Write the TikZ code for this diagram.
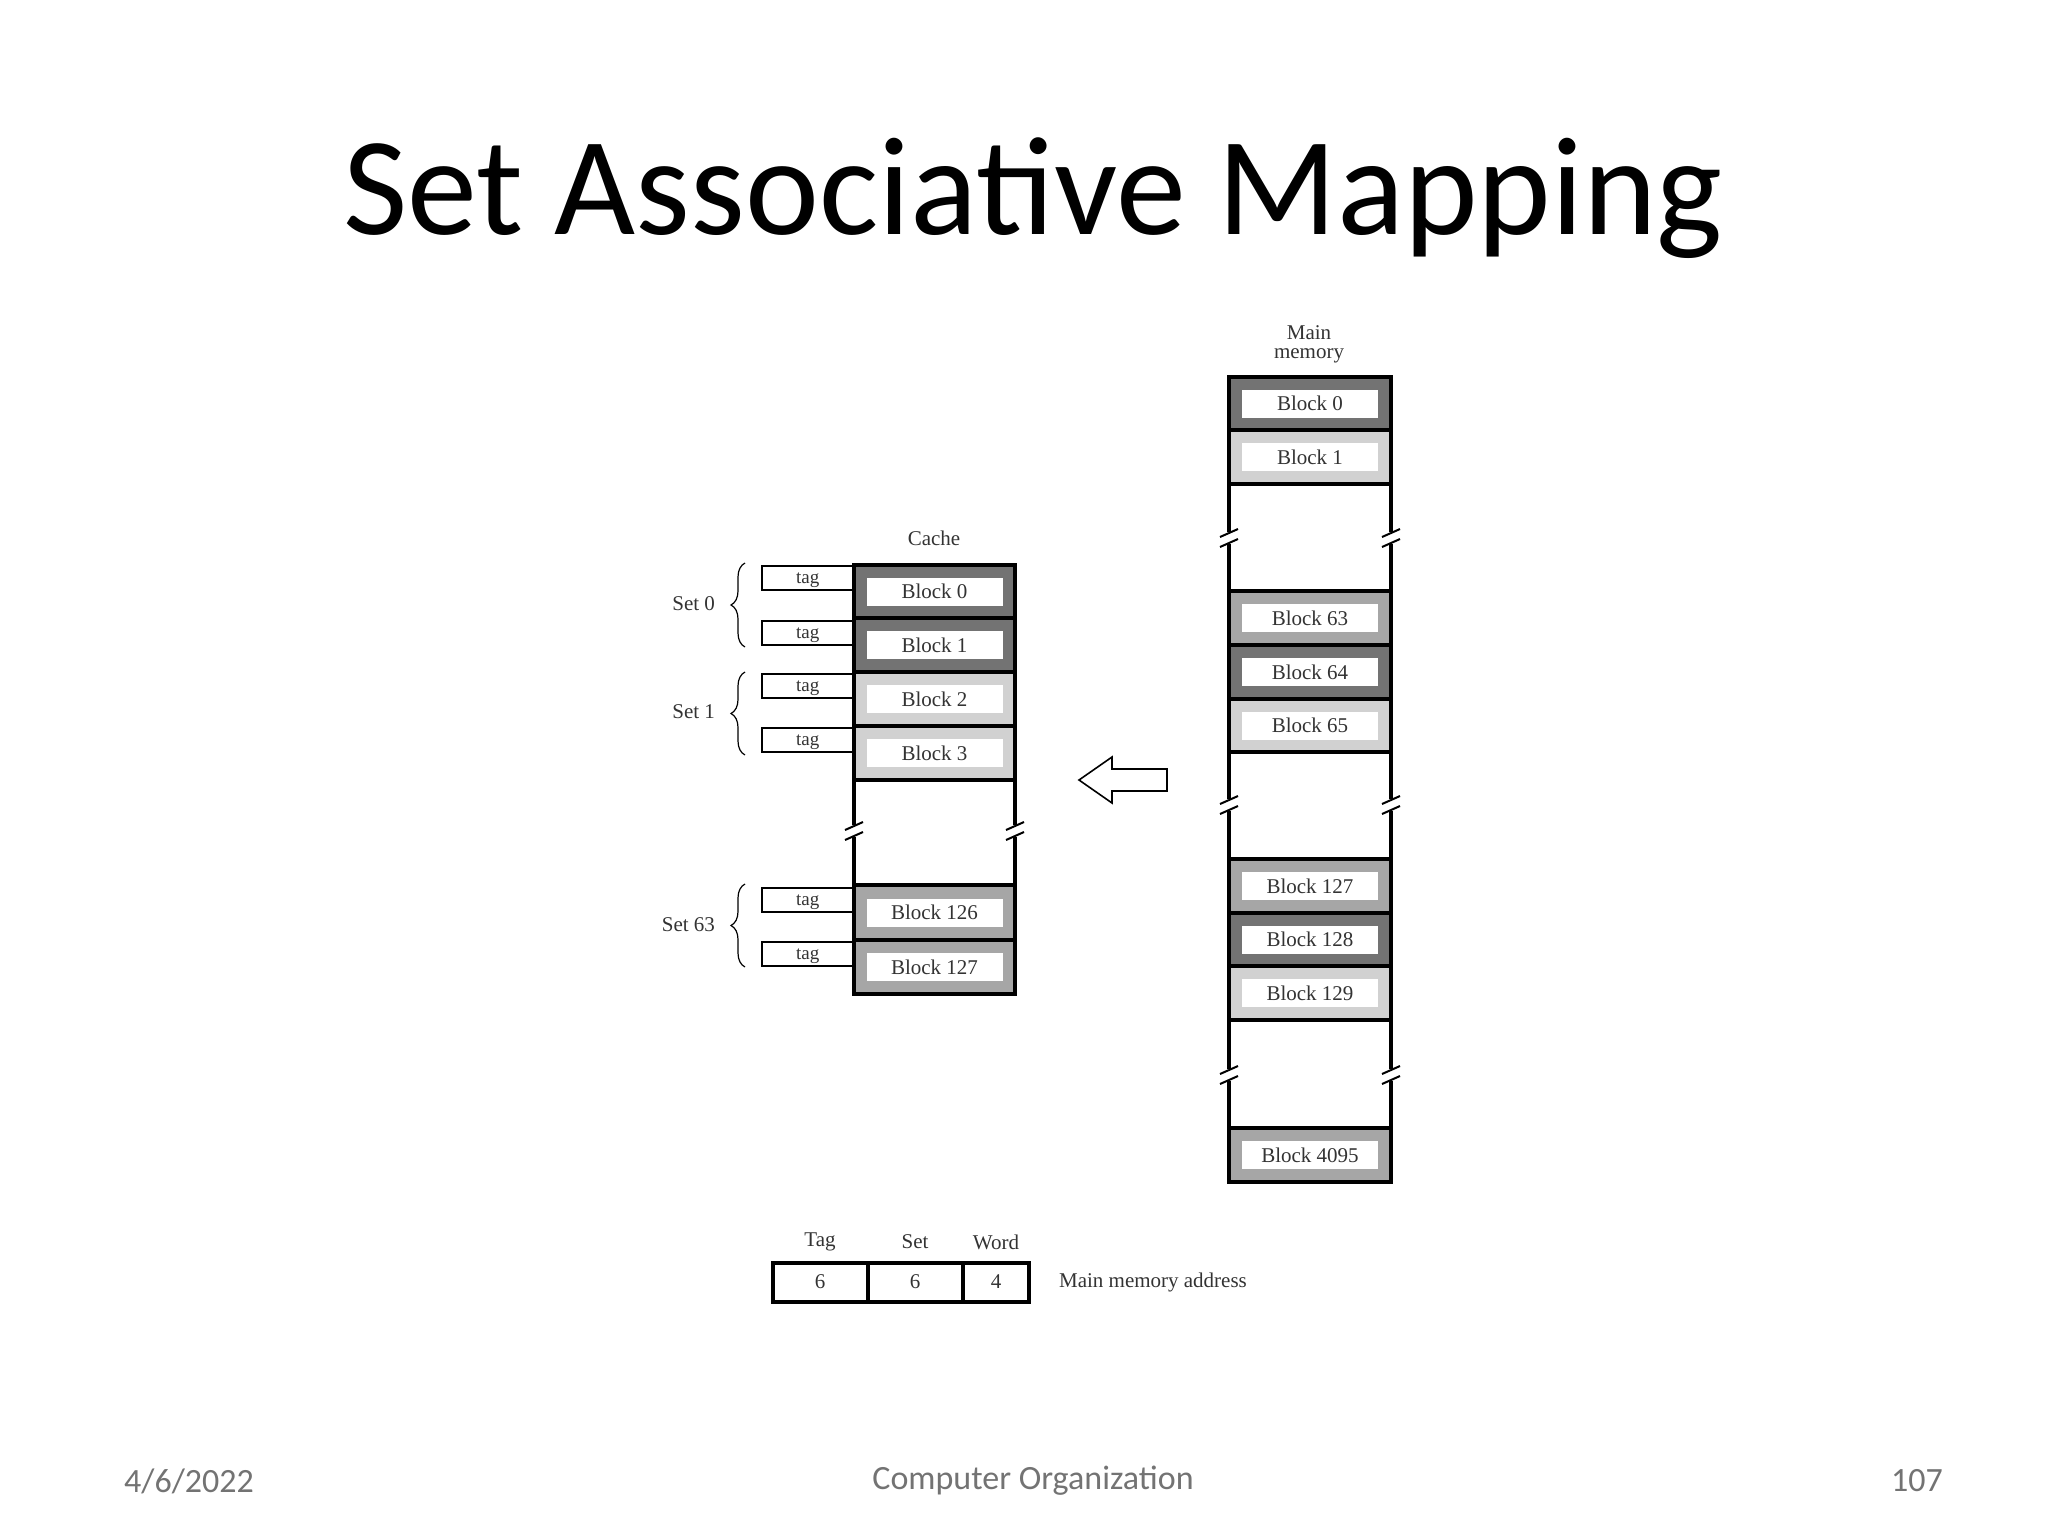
\documentclass[tikz,border=0pt]{standalone}
\usepackage{fontspec}
\setmainfont{Liberation Serif}
\newfontfamily\slidefont{Carlito}
\usetikzlibrary{decorations.pathreplacing}
\definecolor{gdark}{gray}{0.45}
\definecolor{gmed}{gray}{0.65}
\definecolor{glight}{gray}{0.82}
\tikzset{
  inner/.style={fill=white,minimum width=68pt,minimum height=14pt,inner sep=0pt,font=\fontsize{10.5}{12}\selectfont,text=black!80},
  outer/.style={draw=black,line width=2pt},
  tagbox/.style={draw=black,line width=0.8pt,minimum width=46pt,minimum height=12pt,inner sep=0pt,anchor=north west,font=\fontsize{9.5}{10}\selectfont,text=black!80,text depth=0pt},
  lbl/.style={font=\fontsize{10.5}{12}\selectfont,text=black!80},
  brk/.style={line width=1pt}
}
% \blk{name}{x1}{x2}{ytop}{ybot}{colour}{text}
\newcommand{\blk}[7]{%
  \filldraw[outer,fill=#6] (#2,#4) rectangle (#3,#5);
  \node[inner] (#1) at ({(#2+#3)/2},{(#4+#5)/2}) {#7};}
\newcommand{\brkmark}[2]{%
  \fill[white] (#1-6,#2-6) rectangle (#1+6,#2+6);
  \draw[brk] (#1-9,#2-1) -- (#1+9,#2-9);
  \draw[brk] (#1-9,#2+9) -- (#1+9,#2+1);}
\begin{document}
\begin{tikzpicture}[x=0.5pt,y=-0.5pt]
\useasboundingbox (0,0) rectangle (2048,1536);
\node[font=\slidefont\fontsize{70}{80}\selectfont] (title) at (1033,198) {Set Associative Mapping};
\node[font=\slidefont\fontsize{17}{20}\selectfont,text=black!55] (date) at (189,1481) {4/6/2022};
\node[font=\slidefont\fontsize{17}{20}\selectfont,text=black!55] (course) at (1033,1481) {Computer Organization};
\node[font=\slidefont\fontsize{17}{20}\selectfont,text=black!55] (page) at (1917,1481) {107};

% cache
\node[lbl] (cachelbl) at (934,538) {Cache};
\draw[outer] (854,780) rectangle (1015,885);
\blk{c0}{854}{1015}{565}{618}{gdark}{Block 0}
\blk{c1}{854}{1015}{618}{672}{gdark}{Block 1}
\blk{c2}{854}{1015}{672}{726}{glight}{Block 2}
\blk{c3}{854}{1015}{726}{780}{glight}{Block 3}
\blk{c126}{854}{1015}{885}{940}{gmed}{Block 126}
\blk{c127}{854}{1015}{940}{994}{gmed}{Block 127}
\brkmark{854}{831}
\brkmark{1015}{831}

\node[tagbox] (t0) at (761,565) {tag};
\node[tagbox] (t1) at (761,620) {tag};
\node[tagbox] (t2) at (761,673) {tag};
\node[tagbox] (t3) at (761,727) {tag};
\node[tagbox] (t126) at (761,887) {tag};
\node[tagbox] (t127) at (761,941) {tag};

\draw[line width=0.6pt,decorate,decoration={brace,amplitude=7pt}] (745,647) -- (745,563);
\draw[line width=0.6pt,decorate,decoration={brace,amplitude=7pt}] (745,755) -- (745,672);
\draw[line width=0.6pt,decorate,decoration={brace,amplitude=7pt}] (745,967) -- (745,884);
\node[lbl,anchor=east] (s0) at (722,604) {Set 0};
\node[lbl,anchor=east] (s1) at (722,712) {Set 1};
\node[lbl,anchor=east] (s63) at (722,925) {Set 63};

% arrow
\draw[line width=0.8pt,fill=white] (1079,780) -- (1112,757) -- (1112,769) -- (1167,769) -- (1167,791) -- (1112,791) -- (1112,803) -- cycle;

% main memory
\node[lbl,align=center,font=\fontsize{10.5}{9.5}\selectfont] (memlbl) at (1309,344) {Main\\memory};
\draw[outer] (1229,484) rectangle (1391,591);
\draw[outer] (1229,752) rectangle (1391,859);
\draw[outer] (1229,1020) rectangle (1391,1128);
\blk{m0}{1229}{1391}{377}{430}{gdark}{Block 0}
\blk{m1}{1229}{1391}{430}{484}{glight}{Block 1}
\blk{m63}{1229}{1391}{591}{645}{gmed}{Block 63}
\blk{m64}{1229}{1391}{645}{699}{gdark}{Block 64}
\blk{m65}{1229}{1391}{699}{752}{glight}{Block 65}
\blk{m127}{1229}{1391}{859}{913}{gmed}{Block 127}
\blk{m128}{1229}{1391}{913}{966}{gdark}{Block 128}
\blk{m129}{1229}{1391}{966}{1020}{glight}{Block 129}
\blk{m4095}{1229}{1391}{1128}{1182}{gmed}{Block 4095}
\brkmark{1229}{538}\brkmark{1391}{538}
\brkmark{1229}{805}\brkmark{1391}{805}
\brkmark{1229}{1075}\brkmark{1391}{1075}

% address
\draw[line width=1.8pt] (773,1263) rectangle (1029,1302);
\draw[line width=1.8pt] (868,1263) -- (868,1302) (963,1263) -- (963,1302);
\node[lbl] (a1) at (820,1282) {6};
\node[lbl] (a2) at (915,1282) {6};
\node[lbl] (a3) at (996,1282) {4};
\node[lbl] (h1) at (820,1242) {Tag};
\node[lbl] (h2) at (915,1242) {Set};
\node[lbl] (h3) at (996,1242) {Word};
\node[lbl,anchor=west] (addr) at (1052,1282) {Main memory address};
\end{tikzpicture}
\end{document}
